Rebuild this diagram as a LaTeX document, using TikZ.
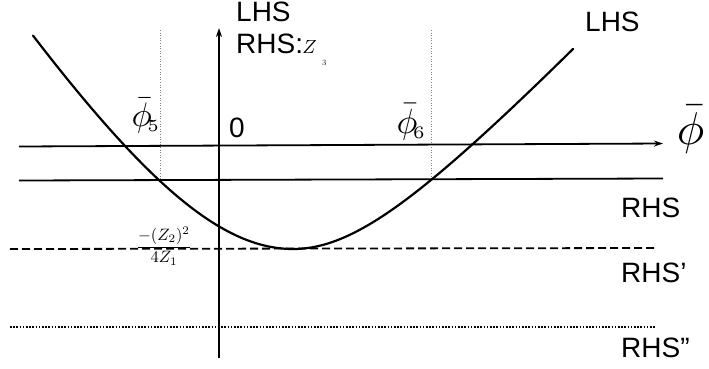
\documentclass[tikz,border=0pt]{standalone}
\usepackage{amsmath}
\usepackage{fontspec}
\setsansfont{Liberation Sans}
\usetikzlibrary{arrows.meta}
\tikzset{
  axisline/.style={line width=1.8pt,-{Stealth[length=9pt,width=6pt]}},
  hline/.style={line width=1.8pt},
  guide/.style={line width=0.6pt,gray,dotted},
  curveline/.style={line width=2.2pt,line cap=round},
  lbl/.style={anchor=base west,inner sep=0pt,font=\sffamily\fontsize{28}{28}\selectfont},
  mlbl/.style={anchor=base west,inner sep=0pt},
}
\begin{document}
\begin{tikzpicture}[x=1pt,y=-1pt]
\useasboundingbox (0,0) rectangle (709,368);
% coordinates
\coordinate (yb) at (219,358);
\coordinate (yt) at (219,28);
\coordinate (xl) at (19,146.5);
\coordinate (xr) at (663,143.5);
\coordinate (rl) at (19,180.5);
\coordinate (rr) at (663,178.5);
\coordinate (dl) at (10,249);
\coordinate (dr) at (657,248);
\coordinate (ol) at (10,327);
\coordinate (or) at (655,327);
\coordinate (g5t) at (160,30);
\coordinate (g5b) at (160,181);
\coordinate (g6t) at (431,30);
\coordinate (g6b) at (431,180);
% guides
\draw[guide] (g5t) -- (g5b);
\draw[guide] (g6t) -- (g6b);
% lines
\draw[axisline] (yb) -- (yt);
\draw[axisline] (xl) -- (xr);
\draw[hline] (rl) -- (rr);
\draw[line width=1.8pt,dash pattern=on 8pt off 4pt] (dl) -- (dr);
\draw[line width=1.6pt,dash pattern=on 1.6pt off 1.6pt] (ol) -- (or);
% curve (two hyperbolic arms meeting at the minimum)
\draw[curveline] plot[domain=33:293,samples=80] (\x,{249-100*(sqrt(9+2.568*((\x-293)/100)^2)-3)})
  -- plot[domain=293:573,samples=80] (\x,{249-100*(sqrt(1.4738+1.1297*((\x-293)/100)^2)-1.214)});
% labels
\node[lbl] (lhs1) at (236,21) {LHS};
\node[lbl] (rhs1) at (236,53) {RHS:};
\node[mlbl,scale=1.9] (z3) at (302,53) {$Z$};
\node[mlbl] (z3s) at (322,65) {\fontsize{8}{8}\selectfont 3};
\node[lbl] (lhs2) at (585,31) {LHS};
\node[lbl] (zero) at (229,137) {0};
\node[mlbl,scale=3.4] (p5) at (131,126) {$\bar{\phi}_{\!\scriptscriptstyle 5}$};
\node[mlbl,scale=3.5] (p6) at (396,133) {$\bar{\phi}_{\!\scriptscriptstyle 6}$};
\node[mlbl,scale=4.6] (pb) at (676,144) {$\bar{\phi}$};
\node[anchor=base,inner sep=0pt,scale=1.65] (fr) at (164,251.5) {$\dfrac{-(Z_2)^2}{4Z_1}$};
\node[lbl] (r1) at (621,217) {RHS};
\node[lbl] (r2) at (621,282) {RHS'};
\node[lbl] (r3) at (621,357) {RHS''};
\end{tikzpicture}
\end{document}
